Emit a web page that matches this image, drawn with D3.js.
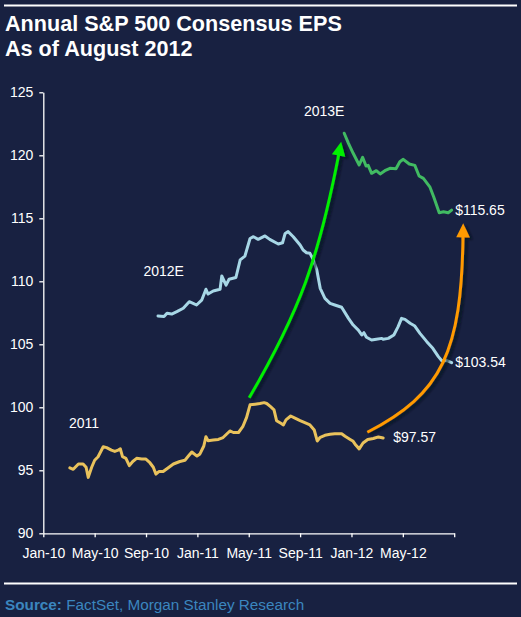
<!DOCTYPE html>
<html>
<head>
	<title>Annual S&amp;P 500 Consensus EPS</title>
	<script type="text/javascript" src="https://d3js.org/d3.v7.min.js"></script>
	<style type="text/css">
		body { margin: 0; background: #182141; }
		.axis path,
		.axis line {
			fill: none;
			stroke: white;
			stroke-width: 1.3px;
		}
		.axis text {
			font-family: "Liberation Sans", Arial, sans-serif;
			font-size: 14px;
			fill: white;
		}
		.lbl {
			font-family: "Liberation Sans", Arial, sans-serif;
			font-size: 14px;
			fill: white;
		}
	</style>
</head>
<body>
	<script type="text/javascript">
		// values (weekly-ish consensus snapshots)
		var eps2011 = [
			["2010-03-03",95.2],["2010-03-11",95.08],["2010-03-23",95.5],["2010-04-04",95.5],["2010-04-11",95.24],
			["2010-04-16",94.44],["2010-04-24",95.24],["2010-05-01",95.8],["2010-05-09",96.08],["2010-05-21",96.87],
			["2010-05-29",96.8],["2010-06-10",96.6],["2010-06-18",96.5],["2010-06-26",96.6],["2010-07-01",96.7],
			["2010-07-06",96.08],["2010-07-14",95.95],["2010-07-22",95.37],["2010-07-30",95.7],["2010-08-09",95.95],
			["2010-08-21",95.9],["2010-08-30",95.9],["2010-09-10",95.6],["2010-09-18",95.24],["2010-09-24",94.7],
			["2010-10-01",94.9],["2010-10-11",94.9],["2010-10-23",95.2],["2010-11-05",95.5],["2010-11-20",95.7],
			["2010-12-02",95.8],["2010-12-10",96.13],["2010-12-18",96.45],["2010-12-30",96.13],["2011-01-07",96.3],
			["2011-01-16",96.93],["2011-01-21",97.67],["2011-01-26",97.35],["2011-02-08",97.4],["2011-02-20",97.45],
			["2011-03-01",97.6],["2011-03-17",98.12],["2011-03-25",98.0],["2011-04-07",98.0],["2011-04-17",98.46],
			["2011-04-26",99.2],["2011-05-04",100.2],["2011-05-16",100.25],["2011-05-27",100.3],["2011-06-07",100.37],
			["2011-06-13",100.3],["2011-06-22",100.05],["2011-06-30",99.8],["2011-07-06",98.94],["2011-07-16",98.73],
			["2011-07-22",98.6],["2011-07-28",99.0],["2011-08-09",99.31],["2011-08-19",99.14],["2011-08-31",98.94],
			["2011-09-12",98.78],["2011-09-24",98.6],["2011-10-04",98.2],["2011-10-11",97.33],["2011-10-18",97.62],
			["2011-10-29",97.78],["2011-11-11",97.86],["2011-11-22",97.9],["2011-12-08",97.9],["2011-12-16",97.7],
			["2011-12-28",97.45],["2012-01-05",97.3],["2012-01-11",97.0],["2012-01-19",96.7],["2012-01-28",97.17],
			["2012-02-09",97.45],["2012-02-22",97.52],["2012-03-04",97.65],["2012-03-15",97.57]
		];

		var eps2012E = [
			["2010-09-29",107.25],["2010-10-13",107.2],["2010-10-20",107.46],["2010-11-01",107.4],["2010-11-13",107.59],
			["2010-11-28",107.86],["2010-12-12",108.38],["2010-12-21",108.25],["2010-12-29",108.12],["2011-01-11",108.5],
			["2011-01-21",109.37],["2011-01-26",108.99],["2011-02-08",109.23],["2011-02-24",109.37],["2011-02-28",110.42],
			["2011-03-08",109.7],["2011-03-15",110.16],["2011-04-01",110.3],["2011-04-11",111.7],["2011-04-22",112.0],
			["2011-05-04",113.4],["2011-05-12",113.54],["2011-05-23",113.33],["2011-06-09",113.6],["2011-06-20",113.33],
			["2011-07-10",112.96],["2011-07-20",113.06],["2011-07-26",113.8],["2011-08-03",113.94],["2011-08-15",113.54],
			["2011-08-31",112.88],["2011-09-08",112.48],["2011-09-16",112.27],["2011-09-24",112.22],["2011-10-02",111.7],
			["2011-10-10",110.9],["2011-10-18",109.44],["2011-10-29",108.65],["2011-11-11",108.25],["2011-11-22",108.12],
			["2011-12-08",107.94],["2011-12-24",107.06],["2012-01-05",106.53],["2012-01-17",106.13],["2012-01-25",105.74],
			["2012-01-30",105.92],["2012-02-06",105.56],["2012-02-18",105.34],["2012-02-29",105.4],["2012-03-12",105.47],
			["2012-03-15",105.4],["2012-03-27",105.47],["2012-04-10",105.74],["2012-04-20",106.4],["2012-04-28",107.06],
			["2012-05-06",106.98],["2012-05-18",106.67],["2012-05-29",106.45],["2012-06-11",105.87],["2012-06-27",105.21],
			["2012-07-11",104.68],["2012-07-24",104.02],["2012-08-02",103.7],["2012-08-14",103.7],["2012-08-25",103.54]
		];

		var eps2013E = [
			["2011-12-14",121.75],["2011-12-24",120.95],["2012-01-05",120.16],["2012-01-19",119.23],["2012-01-27",119.84],
			["2012-02-05",119.15],["2012-02-10",119.2],["2012-02-18",118.57],["2012-02-29",118.78],["2012-03-08",118.52],
			["2012-03-19",118.78],["2012-04-01",118.97],["2012-04-15",118.94],["2012-04-24",119.49],["2012-05-02",119.68],
			["2012-05-16",119.31],["2012-05-29",119.2],["2012-06-09",118.36],["2012-06-19",118.17],["2012-07-04",117.5],
			["2012-07-13",116.71],["2012-07-26",115.44],["2012-08-06",115.52],["2012-08-17",115.44],["2012-08-25",115.65]
		];

		var seriesNames = ["2011", "2012E", "2013E"];
		var xTickDates = ["2010-01-01","2010-05-01","2010-09-01","2011-01-01","2011-05-01","2011-09-01","2012-01-01","2012-05-01","2012-09-01"];
		var xTickLabels = ["Jan-10","May-10","Sep-10","Jan-11","May-11","Sep-11","Jan-12","May-12",""];
		var yTicks = [90, 95, 100, 105, 110, 115, 120, 125];

		// where the series names sit (date, value)
		var nameSpots = [["2010-03-01", 98.33], ["2010-08-25", 110.42], ["2011-09-10", 123.14]];

		// arrows: start, bend corner, tip (date, value)
		var arrowGreen = [["2011-05-02", 100.76], ["2011-10-01", 109.47], ["2011-12-07", 121.08]];
		var arrowOrange = [["2012-02-08", 98.02], ["2012-09-17", 101.85], ["2012-09-22", 114.6]];

		var outer_width = 521;
		var outer_height = 617;
		var plot = {left: 43.3, right: 454.2, top: 92.3, bottom: 533.3};

		// the category axis spaces months evenly, so position by month index
		function monthIdx(s) {
			var p = s.split("-");
			return (+p[0] - 2010) * 12 + (+p[1] - 1) + (+p[2] - 1) / 30;
		}

		var svg = d3.select("body")
					.append("svg")
					.attr("width", outer_width)
					.attr("height", outer_height);

		svg.append("rect")
			.attr("width", outer_width)
			.attr("height", outer_height)
			.attr("fill", "#182141");

		var defs = svg.append("defs");
		defs.append("filter")
			.attr("id", "shadow")
			.attr("x", "-50%").attr("y", "-50%").attr("width", "200%").attr("height", "200%")
			.append("feDropShadow")
			.attr("dx", 3).attr("dy", 2)
			.attr("stdDeviation", 1.2)
			.attr("flood-color", "#05081a")
			.attr("flood-opacity", 0.7);

		// rules top and bottom
		svg.append("line")
			.attr("x1", 4).attr("x2", 517).attr("y1", 5.5).attr("y2", 5.5)
			.attr("stroke", "white").attr("stroke-width", 2.2);
		svg.append("line")
			.attr("x1", 4).attr("x2", 517).attr("y1", 583.5).attr("y2", 583.5)
			.attr("stroke", "white").attr("stroke-width", 2.2);

		var title = svg.append("text")
			.attr("x", 5)
			.style("font-family", "'Liberation Sans', Arial, sans-serif")
			.style("font-size", "21.6px")
			.style("font-weight", "bold")
			.attr("fill", "white");
		title.append("tspan").attr("x", 5).attr("y", 31).text("Annual S&P 500 Consensus EPS");
		title.append("tspan").attr("x", 5).attr("y", 56).text("As of August 2012");

		var src = svg.append("text")
			.attr("x", 5).attr("y", 610)
			.style("font-family", "'Liberation Sans', Arial, sans-serif")
			.style("font-size", "15.3px")
			.attr("fill", "#3b86bf");
		src.append("tspan").style("font-weight", "bold").text("Source:");
		src.append("tspan").text(" FactSet, Morgan Stanley Research");

		var xScale = d3.scaleLinear()
						.domain([monthIdx(xTickDates[0]), monthIdx(xTickDates[xTickDates.length - 1])])
						.range([plot.left, plot.right]);

		var yScale = d3.scaleLinear()
						.domain([d3.min(yTicks), d3.max(yTicks)])
						.range([plot.bottom, plot.top]);

		var xaxis = d3.axisBottom(xScale)
						.tickValues(xTickDates.map(monthIdx))
						.tickFormat(function(d, i){ return xTickLabels[i]; })
						.tickSize(4)
						.tickSizeOuter(0)
						.tickPadding(11);

		var yaxis = d3.axisLeft(yScale)
						.tickValues(yTicks)
						.tickSize(4)
						.tickSizeOuter(0)
						.tickPadding(6);

		svg.append("g")
			.attr("class", "axis")
			.attr("transform", "translate(0, " + plot.bottom + ")")
			.call(xaxis);

		svg.append("g")
			.attr("class", "axis")
			.attr("transform", "translate(" + plot.left + ", 0)")
			.call(yaxis);

		var line = d3.line()
					.x(function(d){ return xScale(monthIdx(d[0])); })
					.y(function(d){ return yScale(d[1]); })
					.curve(d3.curveLinear);

		var allSeries = [eps2011, eps2012E, eps2013E];
		var lineColors = ["#e9c25c", "#a7d7e6", "#41bb62"];
		var endDx = [10, 3.5, 3.5];

		allSeries.forEach(function(s, i){
			svg.append("path")
				.datum(s)
				.attr("d", line)
				.attr("fill", "none")
				.attr("stroke", lineColors[i])
				.attr("stroke-width", 3)
				.attr("stroke-linejoin", "round")
				.attr("stroke-linecap", "round");

			var last = s[s.length - 1];
			svg.append("text")
				.attr("class", "lbl")
				.attr("x", xScale(monthIdx(last[0])) + endDx[i])
				.attr("y", yScale(last[1]) + 4.5)
				.text("$" + d3.format(".2f")(last[1]));

			svg.append("text")
				.attr("class", "lbl")
				.attr("x", xScale(monthIdx(nameSpots[i][0])))
				.attr("y", yScale(nameSpots[i][1]))
				.text(seriesNames[i]);
		});

		function drawArrow(pts, color) {
			var p = pts.map(function(d){ return [xScale(monthIdx(d[0])), yScale(d[1])]; });
			var k = 0.8;
			var c1 = [p[0][0] + k * (p[1][0] - p[0][0]), p[0][1] + k * (p[1][1] - p[0][1])];
			var c2 = [p[2][0] + k * (p[1][0] - p[2][0]), p[2][1] + k * (p[1][1] - p[2][1])];
			var dx = p[2][0] - c2[0], dy = p[2][1] - c2[1];
			var len = Math.sqrt(dx * dx + dy * dy);
			var ux = dx / len, uy = dy / len;
			var headLen = 14, headW = 6.8;
			var base = [p[2][0] - ux * headLen, p[2][1] - uy * headLen];

			var g = svg.append("g").attr("filter", "url(#shadow)");
			var path = d3.path();
			path.moveTo(p[0][0], p[0][1]);
			path.bezierCurveTo(c1[0], c1[1], c2[0], c2[1], base[0] + ux * 2, base[1] + uy * 2);
			g.append("path")
				.attr("d", path.toString())
				.attr("fill", "none")
				.attr("stroke", color)
				.attr("stroke-width", 3);
			g.append("polygon")
				.attr("points", [
					p[2],
					[base[0] - uy * headW, base[1] + ux * headW],
					[base[0] + uy * headW, base[1] - ux * headW]
				].map(function(q){ return q.join(","); }).join(" "))
				.attr("fill", color);
		}

		drawArrow(arrowGreen, "#00f000");
		drawArrow(arrowOrange, "#ff9a00");
	</script>
</body>
</html>
